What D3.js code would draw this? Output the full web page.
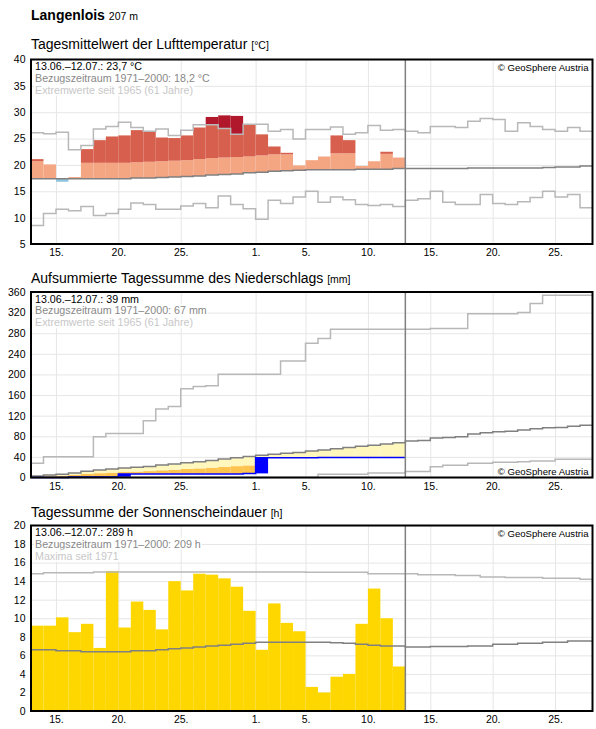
<!DOCTYPE html>
<html>
<head>
<meta charset="utf-8">
<script src="https://cdn.jsdelivr.net/npm/d3@7"></script>
<style>
  body { margin: 0; background: #fff; }
  svg { display: block; font-family: "Liberation Sans", Arial, sans-serif; }
</style>
</head>
<body>
<svg id="chart" width="596" height="729"></svg>
<script>
// time axis: 13.06. - 27.07.2025, observed period ends 12.07.
var startDay = new Date(2025, 5, 13);
var endDay = new Date(2025, 6, 28);
var lastObs = new Date(2025, 6, 13);
var tickDates = [new Date(2025, 5, 15), new Date(2025, 5, 20), new Date(2025, 5, 25), new Date(2025, 6, 1),
  new Date(2025, 6, 5), new Date(2025, 6, 10), new Date(2025, 6, 15), new Date(2025, 6, 20), new Date(2025, 6, 25)];
var tickLabels = ["15.", "20.", "25.", "1.", "5.", "10.", "15.", "20.", "25."];

// --- air temperature, daily mean [°C]
var tempTicks = [5, 10, 15, 20, 25, 30, 35, 40];
var tempActual = [21.1, 20.1, 16.8, 17.7, 23.0, 24.7, 25.4, 25.6, 26.6, 26.4, 25.2, 25.1, 25.6, 27.1, 29.1,
  29.4, 29.3, 27.6, 25.8, 23.5, 22.3, 19.9, 20.9, 21.6, 25.6, 24.7, 19.8, 20.7, 22.5, 21.4];
var tempThreshold = [20.7, 20.6, 20.5, 20.4, 20.4, 20.4, 20.4, 20.4, 20.5, 20.6, 20.7, 20.8, 20.9, 21.1, 21.3,
  21.4, 21.5, 21.6, 21.8, 22.0, 22.0, 22.1, 22.1, 22.2, 22.2, 22.2, 22.3, 22.3, 22.1, 22.3];
var tempMean = [17.4, 17.4, 17.4, 17.4, 17.4, 17.4, 17.4, 17.4, 17.5, 17.5, 17.6, 17.7, 17.8, 17.9, 18.1,
  18.2, 18.3, 18.5, 18.6, 18.8, 18.9, 19.0, 19.1, 19.1, 19.1, 19.1, 19.2, 19.2, 19.2, 19.3,
  19.3, 19.3, 19.3, 19.3, 19.3, 19.4, 19.4, 19.4, 19.4, 19.4, 19.4, 19.5, 19.6, 19.6, 19.8];
var tempMax = [26.1, 25.9, 26.2, 22.9, 23.7, 26.8, 27.3, 28.1, 27.1, 26.4, 26.8, 25.6, 26.6, 27.6, 27.6,
  26.9, 25.8, 27.7, 27.7, 26.4, 26.7, 24.9, 26.7, 26.7, 27.2, 25.8, 26.1, 27.5, 26.6, 26.7,
  26.4, 26.1, 27.3, 27.3, 27.1, 28.3, 28.8, 28.6, 26.4, 28.0, 27.3, 26.7, 26.4, 27.1, 26.4];
var tempMin = [8.5, 10.8, 11.6, 11.3, 12.1, 10.4, 10.8, 11.6, 12.8, 12.5, 11.6, 11.6, 12.2, 12.7, 11.9,
  14.1, 12.5, 11.7, 9.7, 13.3, 12.7, 13.9, 15.0, 12.9, 13.9, 13.4, 12.5, 12.3, 12.5, 12.1,
  13.3, 13.6, 15.0, 12.9, 12.5, 12.5, 14.4, 12.7, 12.5, 13.0, 13.8, 15.0, 13.9, 14.4, 11.9];

// --- precipitation, accumulated [mm]
var precTicks = [0, 40, 80, 120, 160, 200, 240, 280, 320, 360];
var precActual = [0, 0, 0, 1.2, 1.2, 1.2, 1.2, 6.8, 6.8, 6.8, 6.8, 6.8, 6.8, 6.8, 6.8,
  6.8, 6.8, 8.0, 38.2, 38.2, 38.2, 38.2, 38.2, 39.0, 39.0, 39.0, 39.0, 39.0, 39.0, 39.0];
var precDry = [1.7, 2.8, 3.6, 5.0, 6.9, 8.4, 9.5, 10.6, 11.5, 12.4, 14.0, 15.2, 16.6, 17.7, 19.1,
  20.7, 22.1, 23.5, 25.0, 26.2, 27.2, 28.2, 29.9, 31.0, 32.5, 33.6, 35.1, 36.3, 37.7, 38.6];
var precMean = [2.9, 4.8, 6.1, 8.7, 12.0, 14.5, 16.4, 18.3, 19.8, 21.3, 24.1, 26.2, 28.6, 30.6, 33.0,
  35.8, 38.2, 40.6, 43.2, 45.2, 47.0, 48.6, 51.6, 53.5, 56.0, 58.0, 60.5, 62.6, 65.0, 67.2,
  70.7, 72.0, 76.5, 77.5, 79.1, 84.5, 86.8, 88.7, 90.0, 92.0, 94.5, 96.4, 97.0, 99.6, 101.6];
var precMax = [27.6, 40.5, 40.5, 40.5, 40.5, 79, 85.5, 85.5, 85.5, 110, 133, 137.6, 172, 176.7, 178,
  200.6, 200.6, 200.6, 200.6, 200.6, 226, 226, 260.5, 270, 287.5, 287.5, 287.5, 287.5, 287.5, 287.5,
  287.5, 287.5, 289.4, 289.4, 289.4, 318, 318, 318, 318, 320, 337.6, 353.6, 353.6, 353.6, 353.6];
var precMin = [0, 0, 0, 0, 0, 0, 0, 0, 0, 0, 0, 0, 0, 0, 0,
  0, 0, 0, 0, 0, 0, 0, 0, 6.2, 6.2, 6.2, 6.2, 8.5, 8.5, 8.5,
  11.6, 11.6, 21, 23.7, 23.7, 27.6, 27.6, 29.5, 29.5, 30.8, 32, 32, 35.3, 35.3, 35.3];

// --- sunshine duration [h]
var sunTicks = [0, 2, 4, 6, 8, 10, 12, 14, 16, 18, 20];
var sunActual = [9.2, 9.2, 10.1, 8.5, 9.4, 6.8, 15.1, 9.0, 11.8, 10.9, 8.8, 14.0, 13.0, 14.8, 14.7,
  14.3, 13.4, 10.8, 6.6, 11.6, 9.5, 8.6, 2.6, 2.0, 3.7, 4.0, 9.4, 13.2, 10.0, 4.8];
var sunMean = [6.6, 6.6, 6.5, 6.5, 6.4, 6.4, 6.4, 6.4, 6.5, 6.5, 6.6, 6.7, 6.8, 6.9, 7.0,
  7.1, 7.2, 7.3, 7.4, 7.4, 7.4, 7.4, 7.4, 7.4, 7.35, 7.3, 7.2, 7.1, 7.0, 7.0,
  6.9, 6.9, 6.95, 6.95, 6.95, 7.0, 7.0, 7.2, 7.2, 7.3, 7.3, 7.4, 7.4, 7.55, 7.55];
var sunMax = [14.8, 14.9, 14.9, 14.9, 14.9, 15.0, 15.0, 15.0, 15.0, 15.0, 15.0, 15.0, 15.0, 15.0, 15.0,
  15.0, 15.0, 15.0, 15.0, 15.0, 15.0, 15.0, 14.95, 14.95, 14.95, 14.95, 14.95, 14.8, 14.8, 14.8,
  14.8, 14.7, 14.7, 14.7, 14.6, 14.6, 14.45, 14.45, 14.4, 14.4, 14.4, 14.3, 14.3, 14.3, 14.2];

var svg = d3.select("#chart");
var x = d3.scaleTime().domain([startDay, endDay]).range([31, 592.5]);

function dayX(i) {
  return x(d3.timeDay.offset(startDay, i));
}

// label with a white box behind it
function addLabel(g, px, py, txt, color, size, anchor) {
  var t = g.append("text")
    .attr("x", px).attr("y", py)
    .attr("fill", color)
    .attr("font-size", size)
    .attr("text-anchor", anchor || "start")
    .text(txt);
  var b = t.node().getBBox();
  g.insert("rect", function() { return t.node(); })
    .attr("x", b.x - 1).attr("y", b.y)
    .attr("width", b.width + 2).attr("height", b.height)
    .attr("fill", "#fff");
  return t;
}

function makePanel(top, bottom, domain, ticks) {
  var y = d3.scaleLinear().domain(domain).range([bottom, top]);
  var g = svg.append("g");
  // grid
  g.append("g")
    .attr("transform", "translate(31,0)")
    .call(d3.axisLeft(y).tickValues(ticks).tickSize(-(592.5 - 31)).tickFormat(""))
    .call(function(s) {
      s.select(".domain").remove();
      s.selectAll("line").attr("stroke", "#e6e6e6");
    });
  g.append("g")
    .attr("transform", "translate(0," + bottom + ")")
    .call(d3.axisBottom(x).tickValues(tickDates).tickSize(-(bottom - top)).tickFormat(""))
    .call(function(s) {
      s.select(".domain").remove();
      s.selectAll("line").attr("stroke", "#e6e6e6");
    });
  // labels
  g.append("g")
    .attr("transform", "translate(31,0)")
    .call(d3.axisLeft(y).tickValues(ticks).tickSize(0).tickPadding(5.5))
    .call(function(s) {
      s.select(".domain").remove();
      s.attr("font-family", null).attr("font-size", 10.5);
      s.selectAll("text").attr("fill", "#000");
    });
  g.append("g")
    .attr("transform", "translate(0," + bottom + ")")
    .call(d3.axisBottom(x).tickValues(tickDates).tickSize(0).tickPadding(5)
      .tickFormat(function(d, i) { return tickLabels[i]; }))
    .call(function(s) {
      s.select(".domain").remove();
      s.attr("font-family", null).attr("font-size", 10.5);
      s.selectAll("text").attr("fill", "#000").attr("dy", "0.71em");
    });
  var marks = g.append("g");
  return { g: g, marks: marks, y: y, top: top, bottom: bottom };
}

function stepLine(p, vals, color, width) {
  var pts = vals.map(function(v, i) { return [dayX(i), p.y(v)]; });
  pts.push([dayX(vals.length), p.y(vals[vals.length - 1])]);
  p.marks.append("path")
    .attr("d", d3.line().curve(d3.curveStepAfter)(pts))
    .attr("fill", "none")
    .attr("stroke", color)
    .attr("stroke-width", width);
}

function box(p, i, v0, v1, color) {
  if (v1 <= v0) return;
  p.marks.append("rect")
    .attr("x", dayX(i)).attr("width", dayX(i + 1) - dayX(i))
    .attr("y", p.y(v1)).attr("height", p.y(v0) - p.y(v1))
    .attr("fill", color);
}

function finish(p, lines, copyTop) {
  p.g.append("line")
    .attr("x1", x(lastObs)).attr("x2", x(lastObs))
    .attr("y1", p.top).attr("y2", p.bottom)
    .attr("stroke", "#7f7f7f").attr("stroke-width", 1.5);
  var colors = ["#000", "#888", "#c8c8c8"];
  lines.forEach(function(txt, i) {
    addLabel(p.g, 35, p.top + 10.5 + i * 11.8, txt, colors[i], 10.7);
  });
  var cy = copyTop ? p.top + 11 : p.bottom - 3;
  addLabel(p.g, 588.5, cy, "\u00a9 GeoSphere Austria", "#000", 9.6, "end");
  p.g.append("rect")
    .attr("x", 31).attr("y", p.top)
    .attr("width", 592.5 - 31).attr("height", p.bottom - p.top)
    .attr("fill", "none").attr("stroke", "#000").attr("stroke-width", 2);
}

function title(yy, main, unit) {
  var t = svg.append("text").attr("x", 31).attr("y", yy).attr("font-size", 14).attr("fill", "#000");
  t.append("tspan").text(main + " ");
  t.append("tspan").attr("font-size", 10.5).text(unit);
}

// header
var head = svg.append("text").attr("x", 31).attr("y", 19.5).attr("fill", "#000");
head.append("tspan").attr("font-size", 14).attr("font-weight", "bold").text("Langenlois ");
head.append("tspan").attr("font-size", 10.5).text("207 m");

// --- panel 1: temperature
title(49, "Tagesmittelwert der Lufttemperatur", "[°C]");
var p1 = makePanel(59.5, 244, [5, 40], tempTicks);
tempActual.forEach(function(v, i) {
  var m = tempMean[i], thr = tempThreshold[i], mx = tempMax[i];
  if (v >= m) {
    box(p1, i, m, Math.min(v, thr), "#f4a582");
    box(p1, i, thr, Math.min(v, mx), "#d6604d");
    box(p1, i, Math.max(mx, thr), v, "#b2182b");
  } else {
    box(p1, i, v, m, "#92c5de");
  }
});
stepLine(p1, tempMax, "#b8b8b8", 1.5);
stepLine(p1, tempMin, "#b8b8b8", 1.5);
stepLine(p1, tempMean, "#808080", 1.5);
finish(p1, ["13.06.\u201312.07.: 23,7 °C", "Bezugszeitraum 1971\u20132000: 18,2 °C", "Extremwerte seit 1965 (61 Jahre)"], true);

// --- panel 2: precipitation
title(283, "Aufsummierte Tagessumme des Niederschlags", "[mm]");
var p2 = makePanel(292, 477.5, [0, 360], precTicks);
precActual.forEach(function(v, i) {
  var m = precMean[i], thr = precDry[i];
  if (v < m) {
    box(p2, i, v, Math.min(thr, m), "#fec44f");
    box(p2, i, Math.max(v, thr), m, "#fff7bc");
  }
  var prev = i > 0 ? precActual[i - 1] : 0;
  box(p2, i, prev, v, "#0000ff");
});
stepLine(p2, precMax, "#b8b8b8", 1.5);
stepLine(p2, precMin, "#b8b8b8", 1.5);
stepLine(p2, precMean, "#808080", 1.5);
stepLine(p2, precActual, "#0000ff", 1.5);
finish(p2, ["13.06.\u201312.07.: 39 mm", "Bezugszeitraum 1971\u20132000: 67 mm", "Extremwerte seit 1965 (61 Jahre)"], false);

// --- panel 3: sunshine
title(517, "Tagessumme der Sonnenscheindauer", "[h]");
var p3 = makePanel(525.5, 711, [0, 20], sunTicks);
p3.marks.selectAll("rect.sun")
  .data(sunActual)
  .enter().append("rect")
  .attr("class", "sun")
  .attr("x", function(d, i) { return dayX(i); })
  .attr("width", function(d, i) { return dayX(i + 1) - dayX(i); })
  .attr("y", function(d) { return p3.y(d); })
  .attr("height", function(d) { return p3.y(0) - p3.y(d); })
  .attr("fill", "#ffd700");
stepLine(p3, sunMax, "#b8b8b8", 1.5);
stepLine(p3, sunMean, "#808080", 1.5);
finish(p3, ["13.06.\u201312.07.: 289 h", "Bezugszeitraum 1971\u20132000: 209 h", "Maxima seit 1971"], true);
</script>
</body>
</html>
